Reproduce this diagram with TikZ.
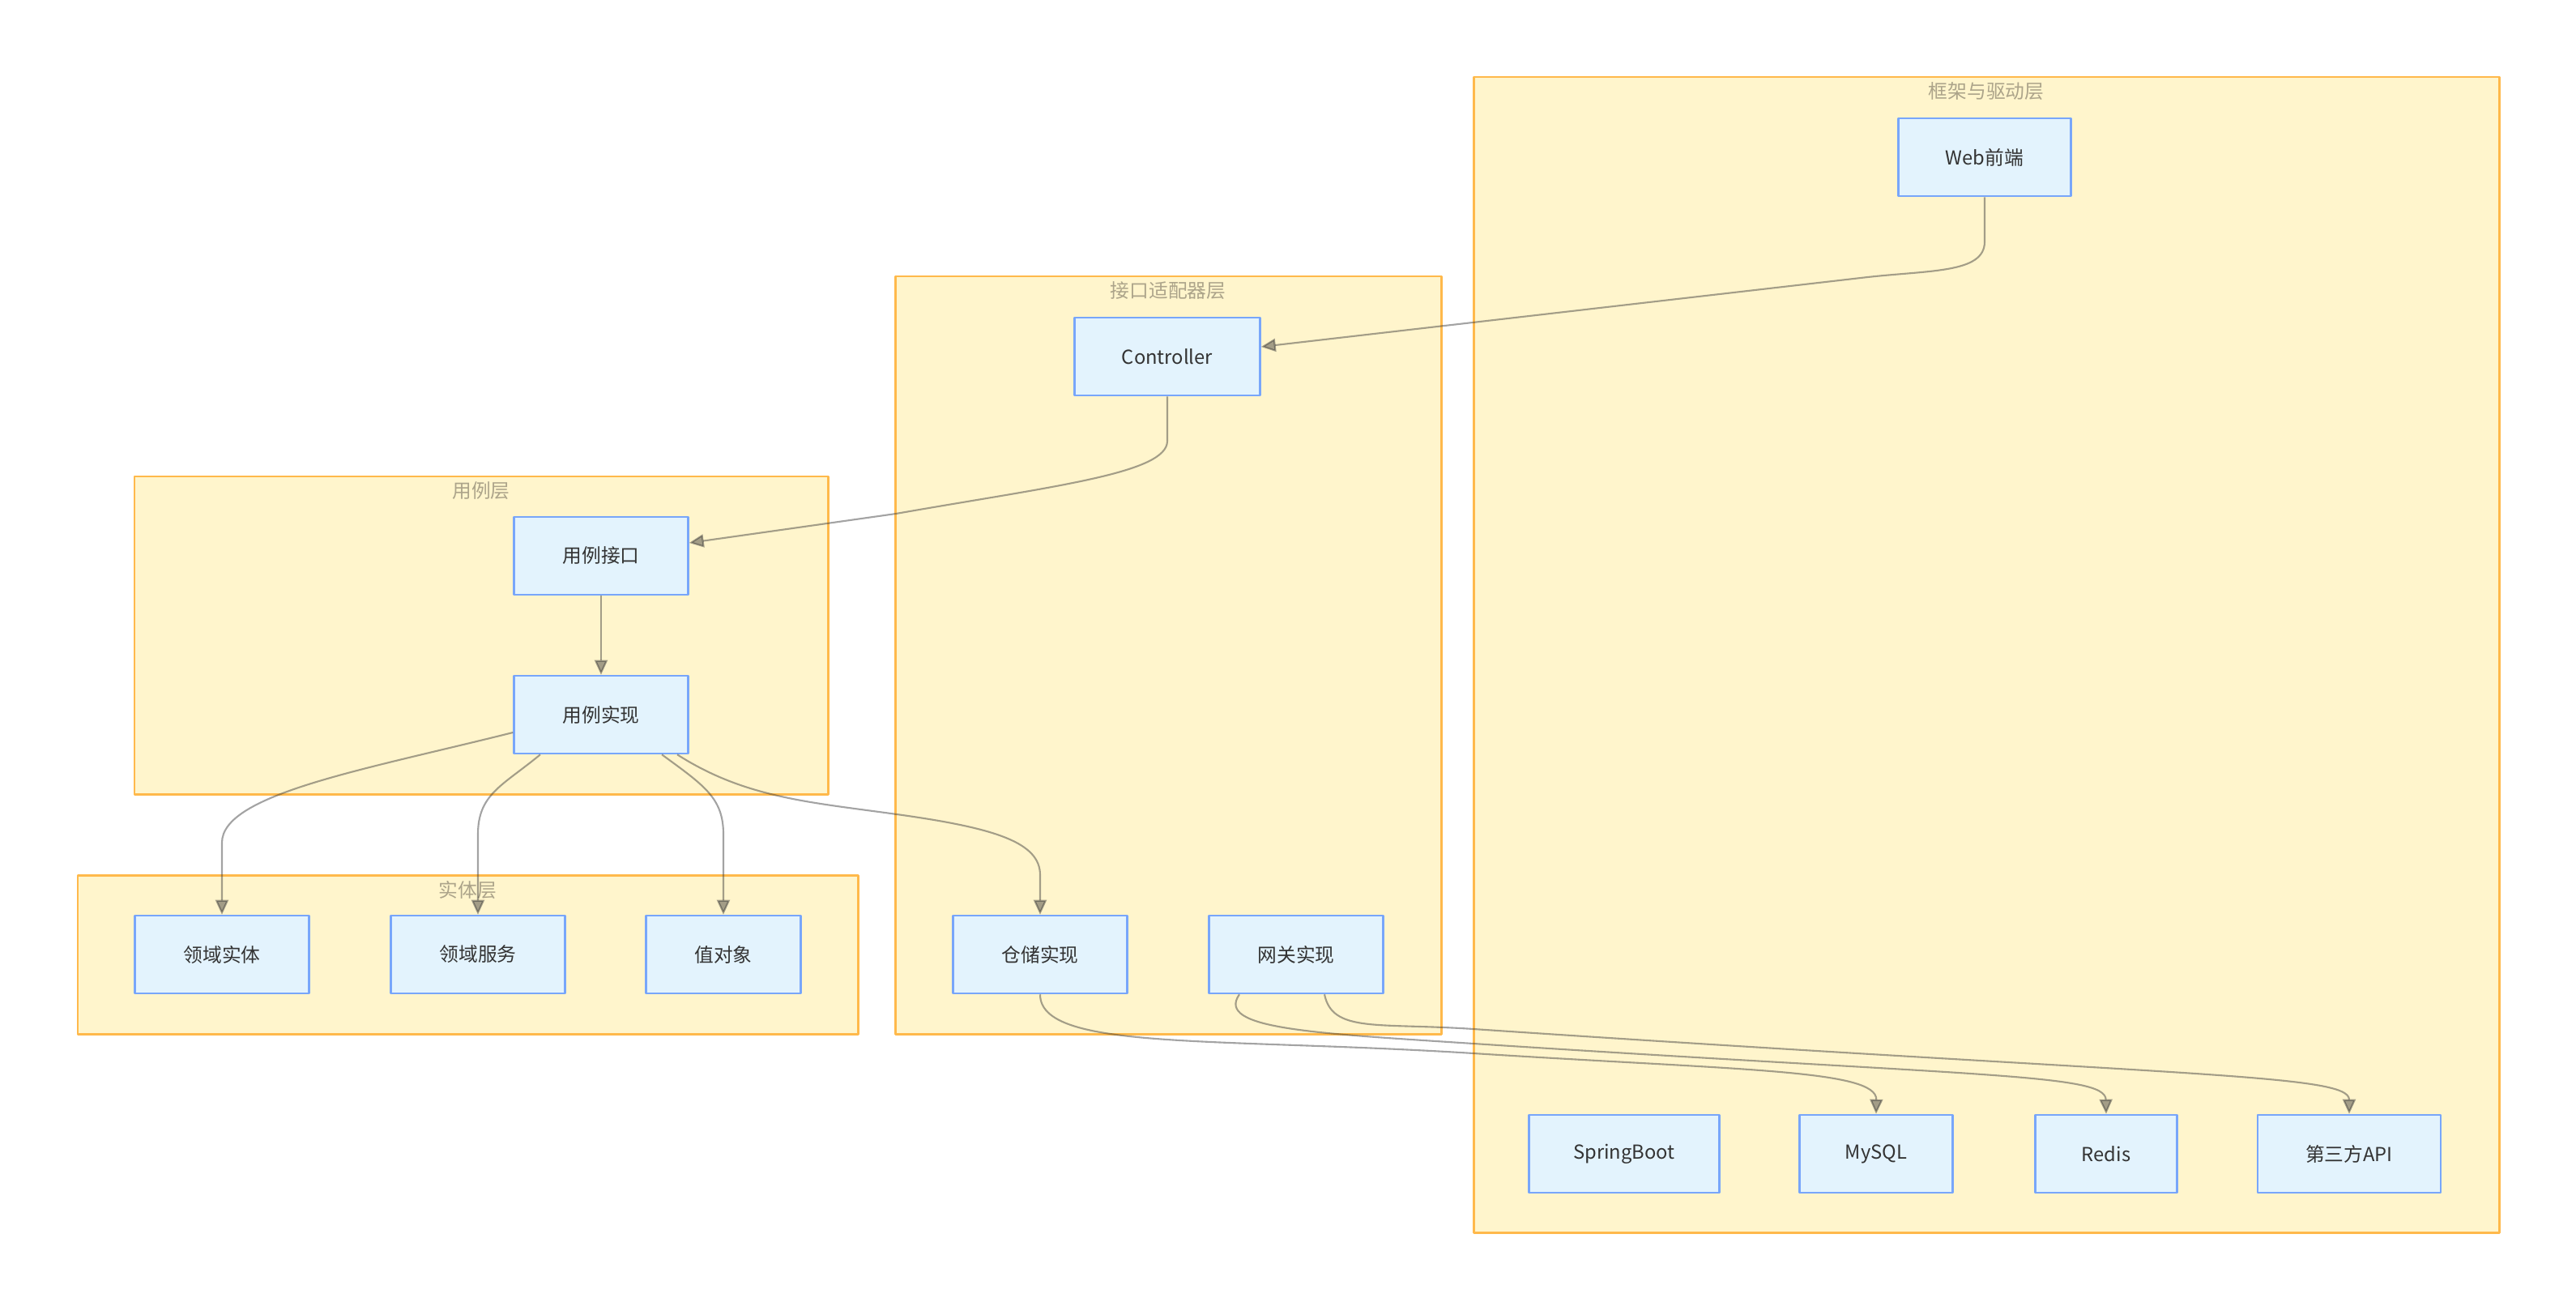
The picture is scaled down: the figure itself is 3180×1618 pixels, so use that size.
\documentclass[tikz,border=0pt]{standalone}
\usepackage{fontspec}
\setmainfont{Noto Sans CJK SC}
\usepackage{xcolor}
\usepackage{tikz}
\usetikzlibrary{arrows.meta}
\definecolor{layerfill}{RGB}{255,245,204}
\definecolor{layerline}{RGB}{255,185,75}
\definecolor{boxfill}{RGB}{227,243,253}
\definecolor{boxline}{RGB}{120,166,250}
\definecolor{edgecol}{RGB}{51,51,51}
\definecolor{titlecol}{RGB}{172,164,138}
\definecolor{textcol}{RGB}{51,51,51}

\begin{document}
\begin{tikzpicture}[x=0.01cm, y=-0.01cm, >={Triangle[length=0.18cm,width=0.16cm]},
    line join=round, font=\fontsize{6.75}{8}\selectfont,
    layer/.style={fill=layerfill, draw=layerline, line width=0.85pt},
    layertitle/.style={text=titlecol, inner sep=0pt},
    box/.style={rectangle, fill=boxfill, draw=boxline, line width=0.7pt, text=textcol,
      minimum height=0.96cm, inner sep=0pt},
    flow/.style={draw=edgecol, opacity=0.45, line width=0.6pt, ->}]
  \path[use as bounding box] (0,0) rectangle (3180,1618);

  % Layers
  \foreach \name/\xa/\ya/\xb/\yb/\txt in {fwlayer/1819/95/3085/1521/框架与驱动层,
      adlayer/1105/341/1779/1276/接口适配器层, uclayer/166/588/1022/980/用例层,
      entlayer/96/1080/1059/1276/实体层} {
    \draw[layer] (\xa,\ya) rectangle (\xb,\yb);
    \node[layertitle] (\name) at ({(\xa+\xb)/2},{\ya+18}) {\txt};
  }

  % Components
  \foreach \name/\px/\py/\w/\txt in {web/2450/194/2.13/Web前端, ctrl/1441/440/2.29/Controller,
      ucif/742/686/2.15/用例接口, ucimpl/742/882/2.15/用例实现,
      ent/274/1178/2.15/领域实体, dsvc/590/1178/2.15/领域服务, vo/893/1178/1.91/值对象,
      repo/1284/1178/2.15/仓储实现, gw/1600/1178/2.15/网关实现,
      spring/2005/1424/2.35/SpringBoot, mysql/2316/1424/1.89/MySQL,
      redis/2600/1424/1.75/Redis, api/2900/1424/2.26/第三方API} {
    \node[box, minimum width=\w cm] (\name) at (\px,\py) {\txt};
  }

  % Dependencies pointing inward
  \draw[flow] (web.south) -- ++(0,55) .. controls +(0,40) and (2380,333) .. (2297,343)
    -- ([yshift=0.12cm]ctrl.east);
  \draw[flow] (ctrl.south) -- ++(0,55) .. controls +(0,40) and (1300,600) .. (1106,634)
    -- ([yshift=0.16cm]ucif.east);
  \draw[flow] (ucif) -- (ucimpl);

  % Use case implementation fan-out
  \draw[flow] ([yshift=-0.22cm]ucimpl.west) .. controls (450,950) and (274,980) .. (274,1040)
    -- (ent.north);
  \draw[flow] ([xshift=-0.75cm]ucimpl.south) .. controls (620,970) and (590,980) .. (590,1030)
    -- (dsvc.north);
  \draw[flow] ([xshift=0.75cm]ucimpl.south) .. controls (870,970) and (893,985) .. (893,1030)
    -- (vo.north);
  \draw[flow] ([xshift=0.94cm]ucimpl.south) .. controls (920,985) and (1000,990) .. (1107,1005)
    .. controls (1230,1022) and (1284,1040) .. (1284,1080) -- (repo.north);

  % Adapters to drivers
  \draw[flow] (repo.south) .. controls +(0,70) and (1500,1280) .. (1819,1300)
    .. controls (2150,1321) and (2317,1320) .. (mysql.north);
  \draw[flow] ([xshift=-0.7cm]gw.south) .. controls (1500,1270) and (1620,1275) .. (1819,1288)
    .. controls (2450,1329) and (2599,1325) .. (redis.north);
  \draw[flow] ([xshift=0.35cm]gw.south) .. controls (1645,1275) and (1700,1262) .. (1819,1270)
    .. controls (2700,1329) and (2900,1325) .. (api.north);

\end{tikzpicture}
\end{document}
